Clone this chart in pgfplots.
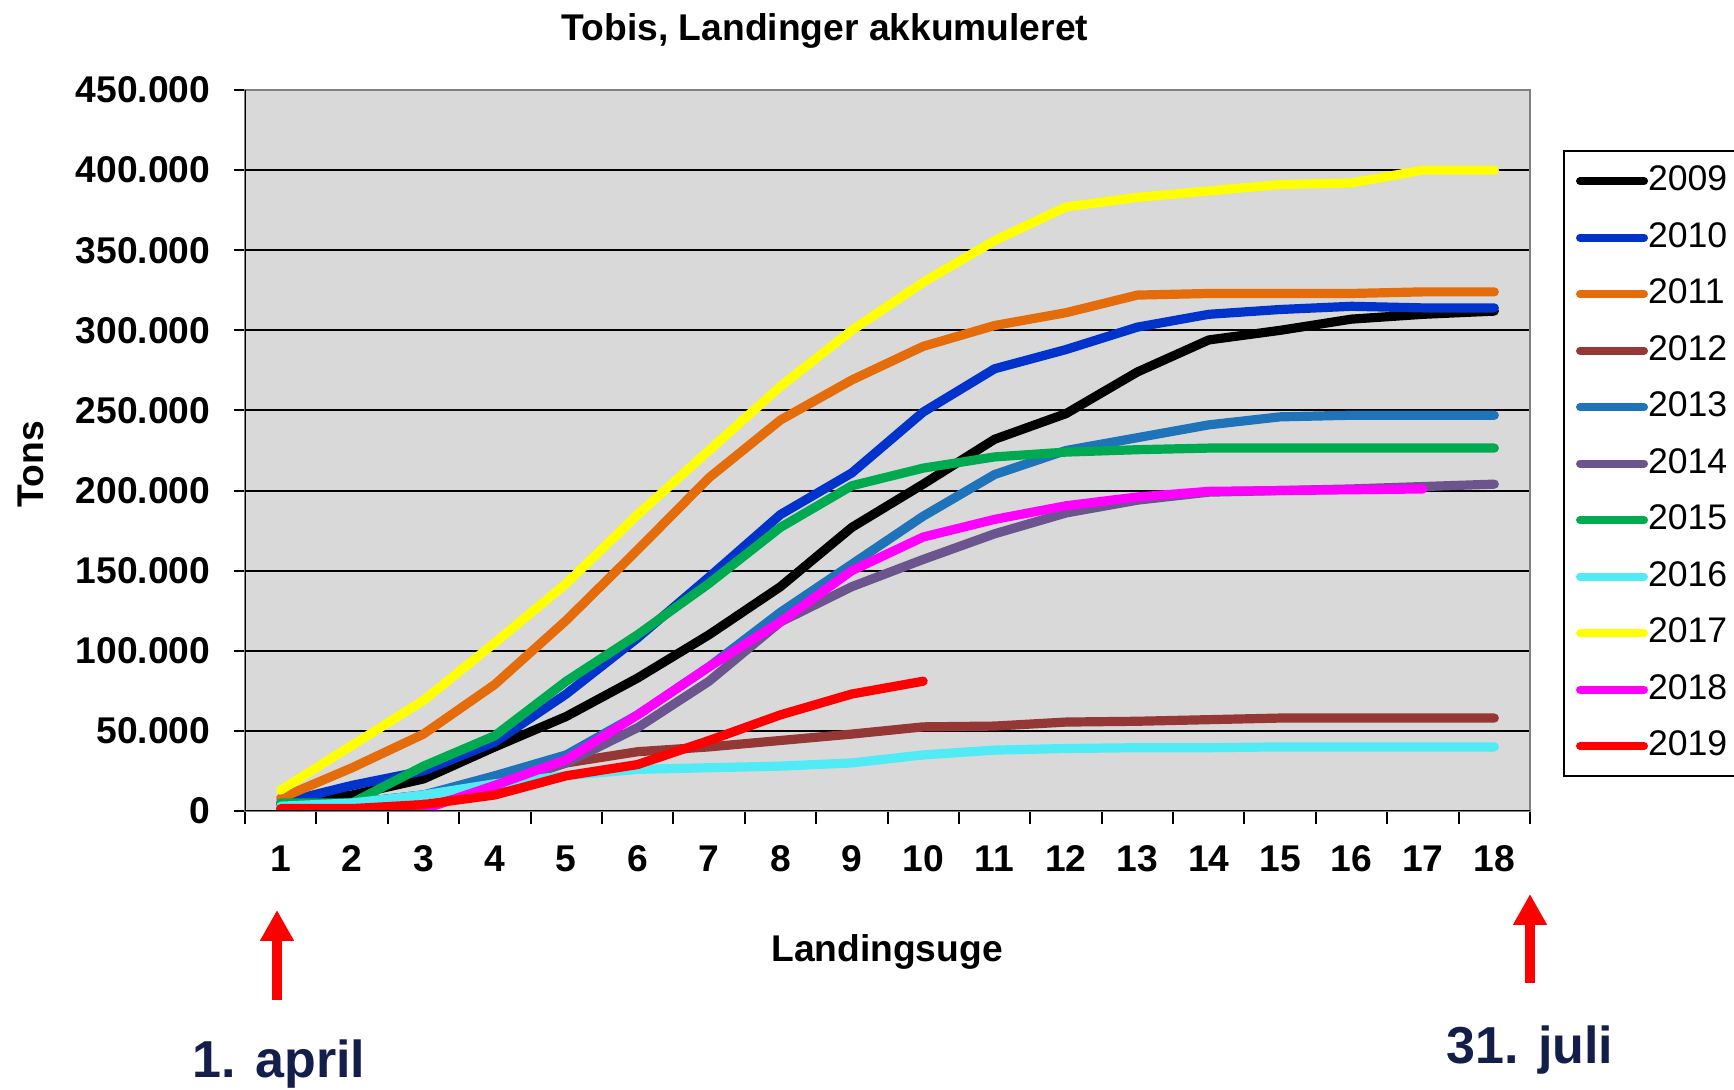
\documentclass[border=0pt]{standalone}
\usepackage{fontspec}
\setmainfont{Liberation Sans}
\usepackage{pgfplots}
\pgfplotsset{compat=1.18}
\usetikzlibrary{arrows.meta}
\definecolor{plotbg}{RGB}{217,217,217}
\definecolor{c2009}{RGB}{0,0,0}
\definecolor{c2010}{RGB}{0,51,204}
\definecolor{c2011}{RGB}{228,108,10}
\definecolor{c2012}{RGB}{149,55,53}
\definecolor{c2013}{RGB}{31,115,185}
\definecolor{c2014}{RGB}{108,84,142}
\definecolor{c2015}{RGB}{0,170,80}
\definecolor{c2016}{RGB}{80,235,245}
\definecolor{c2017}{RGB}{255,255,0}
\definecolor{c2018}{RGB}{255,0,255}
\definecolor{c2019}{RGB}{255,0,0}
\definecolor{navy}{RGB}{20,30,75}
\newcommand{\tickfont}{\fontsize{9.3pt}{11pt}\selectfont\bfseries}
\begin{document}
\begin{tikzpicture}
\useasboundingbox (0,0) rectangle (433.5pt,272.5pt);
\begin{axis}[
  at={(61.25pt,69.75pt)}, anchor=south west,
  width=321.25pt, height=180.25pt, scale only axis,
  xmin=0.5, xmax=18.5, ymin=0, ymax=450000,
  axis background/.style={fill=plotbg},
  axis line style={draw=black!50, line width=0.5pt},
  tick align=outside, tick pos=left,
  major tick length=2.75pt, minor tick length=3.25pt,
  tick style={black, line width=0.5pt},
  xtick={1,...,18},
  xticklabels={1,2,3,4,5,6,7,8,9,10,11,12,13,14,15,16,17,18},
  major x tick style={draw=none},
  minor xtick={0.5,1.5,...,18.5},
  ytick={0,50000,100000,150000,200000,250000,300000,350000,400000,450000},
  yticklabels={0,50.000,100.000,150.000,200.000,250.000,300.000,350.000,400.000,450.000},
  scaled y ticks=false,
  /pgf/number format/assume math mode=true,
  ymajorgrids, grid style={black, line width=0.5pt},
  xticklabel style={font=\tickfont, anchor=north, inner sep=0pt},
  yticklabel style={font=\tickfont, anchor=east, inner sep=0pt},
  xticklabel shift=5.75pt,
  yticklabel shift=5.75pt,
  legend style={at={(rel axis cs:1.0257,0.917)}, anchor=north west,
    draw=black, line width=0.5pt, fill=white,
    inner xsep=3pt, inner ysep=0.5pt, row sep=0pt,
    font=\fontsize{8.9pt}{10pt}\selectfont,
    nodes={inner sep=0pt, minimum height=14.125pt, text width=27pt, align=left},
    /tikz/every even column/.append style={column sep=0pt}},
  legend cell align=left,
  legend image code/.code={\draw[#1, line width=2pt, line cap=round] (0pt,0pt) -- (16pt,0pt);},
  every axis plot/.append style={line width=2.3pt, line join=round, line cap=round, mark=none},
]
\addplot[c2009] coordinates {(1,4000) (2,10000) (3,20000) (4,40000) (5,59000) (6,83000) (7,110000) (8,140000) (9,177000) (10,204000) (11,232000) (12,248000) (13,274000) (14,294000) (15,300000) (16,307000) (17,310000) (18,312000)};
\addplot[c2010] coordinates {(1,5000) (2,16000) (3,25000) (4,43000) (5,73000) (6,108000) (7,146000) (8,185000) (9,211000) (10,249000) (11,276000) (12,288000) (13,302000) (14,310000) (15,313000) (16,315000) (17,314000) (18,314000)};
\addplot[c2011] coordinates {(1,8000) (2,27000) (3,48000) (4,79000) (5,119000) (6,163000) (7,208000) (8,244000) (9,269000) (10,290000) (11,303000) (12,311000) (13,322000) (14,323000) (15,323000) (16,323000) (17,324000) (18,324000)};
\addplot[c2012] coordinates {(1,2000) (2,5000) (3,10000) (4,18000) (5,30000) (6,37000) (7,40000) (8,44000) (9,48000) (10,52500) (11,53000) (12,55500) (13,56000) (14,57000) (15,58000) (16,58000) (17,58000) (18,58000)};
\addplot[c2013] coordinates {(1,3000) (2,5000) (3,10000) (4,22000) (5,35000) (6,60000) (7,90000) (8,124000) (9,154000) (10,184000) (11,210000) (12,225000) (13,233000) (14,241000) (15,246000) (16,247000) (17,247000) (18,247000)};
\addplot[c2014] coordinates {(1,1000) (2,1000) (3,2000) (4,15000) (5,30000) (6,52000) (7,81000) (8,118000) (9,140000) (10,157000) (11,173000) (12,186000) (13,194000) (14,199000) (15,200000) (16,201000) (17,202500) (18,204000)};
\addplot[c2015] coordinates {(1,5000) (2,5000) (3,28000) (4,47000) (5,81000) (6,110000) (7,142000) (8,177000) (9,203000) (10,214000) (11,221000) (12,224000) (13,225500) (14,226500) (15,226500) (16,226500) (17,226500) (18,226500)};
\addplot[c2016] coordinates {(1,3000) (2,5000) (3,10000) (4,17000) (5,22000) (6,26000) (7,27000) (8,28000) (9,30000) (10,35000) (11,38000) (12,39000) (13,39500) (14,39500) (15,40000) (16,40000) (17,40000) (18,40000)};
\addplot[c2017] coordinates {(1,13000) (2,41000) (3,69000) (4,105000) (5,142000) (6,185000) (7,225000) (8,265000) (9,300000) (10,330000) (11,356000) (12,377000) (13,383000) (14,387000) (15,391000) (16,392000) (17,400000) (18,400000)};
\addplot[c2018] coordinates {(1,0) (2,0) (3,1000) (4,16000) (5,32000) (6,60000) (7,90000) (8,118000) (9,150000) (10,171000) (11,182000) (12,190500) (13,196000) (14,199500) (15,200000) (16,200500) (17,201000)};
\addplot[c2019] coordinates {(1,1500) (2,1500) (3,4000) (4,10000) (5,22000) (6,29000) (7,44000) (8,60000) (9,73000) (10,81000)};
\legend{2009,2010,2011,2012,2013,2014,2015,2016,2017,2018,2019}
\draw[black, line width=0.6pt] (rel axis cs:0,1) -- (rel axis cs:0,0) -- (rel axis cs:1,0);
\end{axis}
\node[font=\tickfont] at (206.25pt,264.7pt) {Tobis, Landinger akkumuleret};
\node[font=\tickfont, rotate=90] at (7.75pt,156.5pt) {Tons};
\node[font=\tickfont] at (221.75pt,34.4pt) {Landingsuge};
\node[font=\fontsize{13pt}{15pt}\selectfont\bfseries, text=navy, anchor=base, inner sep=0pt] at (69.75pt,3pt) {1. april};
\node[font=\fontsize{13pt}{15pt}\selectfont\bfseries, text=navy, anchor=base, inner sep=0pt] at (382.5pt,6.5pt) {31. juli};
\draw[red, line width=2.5pt, -{Triangle[length=7.75pt,width=8pt]}] (69.25pt,22.5pt) -- (69.25pt,45pt);
\draw[red, line width=2.5pt, -{Triangle[length=7.75pt,width=8pt]}] (382.5pt,26.75pt) -- (382.5pt,49pt);
\end{tikzpicture}
\end{document}
